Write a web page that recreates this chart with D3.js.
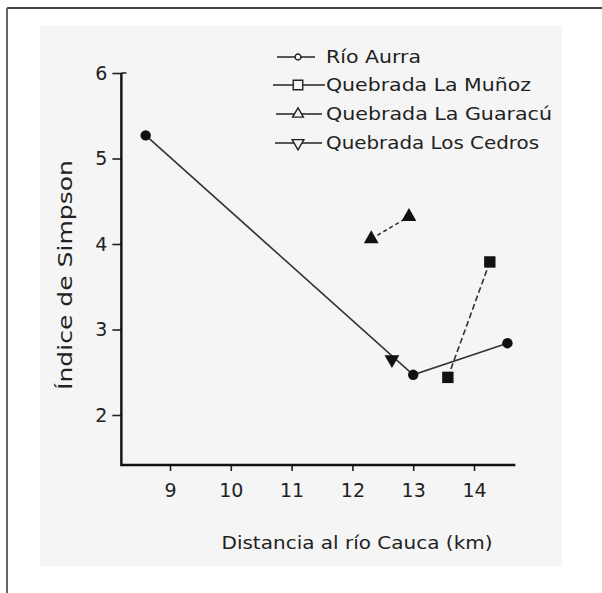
<!DOCTYPE html>
<html>
<head>
<meta charset="utf-8">
<script src="https://cdn.jsdelivr.net/npm/d3@7"></script>
<style>
  body { margin: 0; background: #fff; }
  svg text { font-family: "DejaVu Sans", sans-serif; fill: #222; }
</style>
</head>
<body>
<div id="graph"></div>
<script>
// series
var seriesNames = ["Río Aurra", "Quebrada La Muñoz", "Quebrada La Guaracú", "Quebrada Los Cedros"];
var aurra    = [[8.6, 5.27], [13.0, 2.47], [14.55, 2.84]];
var munoz    = [[13.57, 2.44], [14.26, 3.79]];
var guaracu  = [[12.31, 4.06], [12.93, 4.32]];
var cedros   = [[12.65, 2.65]];
var xTicks = [9, 10, 11, 12, 13, 14];
var yTicks = [2, 3, 4, 5, 6];

var width = 602, height = 593;

var chart = d3.select("#graph").append("svg")
    .attr("width", width)
    .attr("height", height);

// page frame + scanned area
chart.append("line").attr("x1", 7).attr("x2", width).attr("y1", 8).attr("y2", 8)
    .style("stroke", "#444").style("stroke-width", 2);
chart.append("line").attr("x1", 7).attr("x2", 7).attr("y1", 8).attr("y2", height)
    .style("stroke", "#666").style("stroke-width", 2);
chart.append("rect").attr("x", 40).attr("y", 26).attr("width", 522).attr("height", 540)
    .style("fill", "#f5f5f5");

//Create scale functions
var xScale = d3.scaleLinear().domain([9, 14]).range([170, 474]);
var yScale = d3.scaleLinear().domain([2, 6]).range([415, 73]);

var xLo = 8.2, xHi = 14.68, yLo = 1.415;

//Create X axis
var xAxis = chart.append("g")
    .attr("transform", "translate(0," + yScale(yLo) + ")")
    .call(d3.axisBottom(xScale).tickValues(xTicks).tickFormat(d3.format("d"))
      .tickSize(6).tickPadding(12).tickSizeOuter(0));
xAxis.select(".domain").remove();
xAxis.selectAll("line").style("stroke", "#222").style("stroke-width", 1.6);
xAxis.selectAll("text").style("font-size", "19px").attr("font-family", null);

//Create Y axis
var yAxis = chart.append("g")
    .attr("transform", "translate(" + xScale(xLo) + ",0)")
    .call(d3.axisLeft(yScale).tickValues(yTicks).tickFormat(d3.format("d"))
      .tickSize(9).tickPadding(5).tickSizeOuter(0));
yAxis.select(".domain").remove();
yAxis.selectAll("line").style("stroke", "#222").style("stroke-width", 1.6);
yAxis.selectAll("text").style("font-size", "19px").attr("font-family", null);

// axis lines drawn as one L shape
chart.append("path")
    .attr("d", "M" + xScale(xLo) + "," + yScale(6) + "L" + xScale(xLo) + "," + yScale(yLo) +
               "L" + xScale(xHi) + "," + yScale(yLo))
    .style("fill", "none").style("stroke", "#111").style("stroke-width", 2.4);
// little hook at the top of the y axis
chart.append("line")
    .attr("x1", xScale(xLo)).attr("x2", xScale(xLo) + 5)
    .attr("y1", yScale(6)).attr("y2", yScale(6))
    .style("stroke", "#222").style("stroke-width", 1.6);

// axis titles
chart.append("text")
    .attr("transform", "translate(72," + 275 + ") rotate(-90)")
    .attr("text-anchor", "middle")
    .attr("textLength", 230).attr("lengthAdjust", "spacingAndGlyphs")
    .style("font-size", "19px")
    .text("Índice de Simpson");

chart.append("text")
    .attr("x", 357).attr("y", 549)
    .attr("text-anchor", "middle")
    .attr("textLength", 271).attr("lengthAdjust", "spacingAndGlyphs")
    .style("font-size", "17px")
    .text("Distancia al río Cauca (km)");

var line = d3.line()
    .x(function(d) { return xScale(d[0]); })
    .y(function(d) { return yScale(d[1]); });

chart.append("path").datum(aurra).attr("d", line)
    .style("fill", "none").style("stroke", "#333").style("stroke-width", 1.6);
chart.append("path").datum(munoz).attr("d", line)
    .style("fill", "none").style("stroke", "#333").style("stroke-width", 1.6)
    .style("stroke-dasharray", "6,3");
chart.append("path").datum(guaracu).attr("d", line)
    .style("fill", "none").style("stroke", "#333").style("stroke-width", 1.6)
    .style("stroke-dasharray", "4,3");

var sym = {
  circle: d3.symbol().type(d3.symbolCircle).size(85),
  square: d3.symbol().type(d3.symbolSquare).size(130),
  triangle: d3.symbol().type(d3.symbolTriangle).size(95)
};

function drawPoints(data, gen, rot) {
  chart.append("g").selectAll("path")
    .data(data)
    .enter()
    .append("path")
    .attr("d", gen)
    .attr("transform", function(d) {
      return "translate(" + xScale(d[0]) + "," + yScale(d[1]) + ")" + (rot ? " rotate(180)" : "");
    })
    .style("fill", "#111");
}
drawPoints(aurra, sym.circle, false);
drawPoints(munoz, sym.square, false);
drawPoints(guaracu, sym.triangle, false);
drawPoints(cedros, sym.triangle, true);

// legend (open symbols, as in the original)
var legendRows = [57, 85, 114, 143];
var legendSym = [
  d3.symbol().type(d3.symbolCircle).size(28),
  d3.symbol().type(d3.symbolSquare).size(90),
  d3.symbol().type(d3.symbolTriangle).size(50),
  d3.symbol().type(d3.symbolTriangle).size(60)
];
var legendLines = [[277, 315], [273, 325], [276, 322], [275, 322]];
var legendLen = [95, 205, 226, 213];

var legend = chart.append("g");
seriesNames.forEach(function(name, i) {
  var y = legendRows[i];
  legend.append("line")
    .attr("x1", legendLines[i][0]).attr("x2", legendLines[i][1])
    .attr("y1", y).attr("y2", y)
    .style("stroke", "#222").style("stroke-width", 1.6);
  legend.append("path")
    .attr("d", legendSym[i]())
    .attr("transform", "translate(" + 298 + "," + y + ")" + (i == 3 ? " rotate(180)" : ""))
    .style("fill", "#f5f5f5").style("stroke", "#222").style("stroke-width", 1.4);
  legend.append("text")
    .attr("x", 326).attr("y", y + 6)
    .attr("textLength", legendLen[i]).attr("lengthAdjust", "spacingAndGlyphs")
    .style("font-size", "17px")
    .text(name);
});
</script>
</body>
</html>
